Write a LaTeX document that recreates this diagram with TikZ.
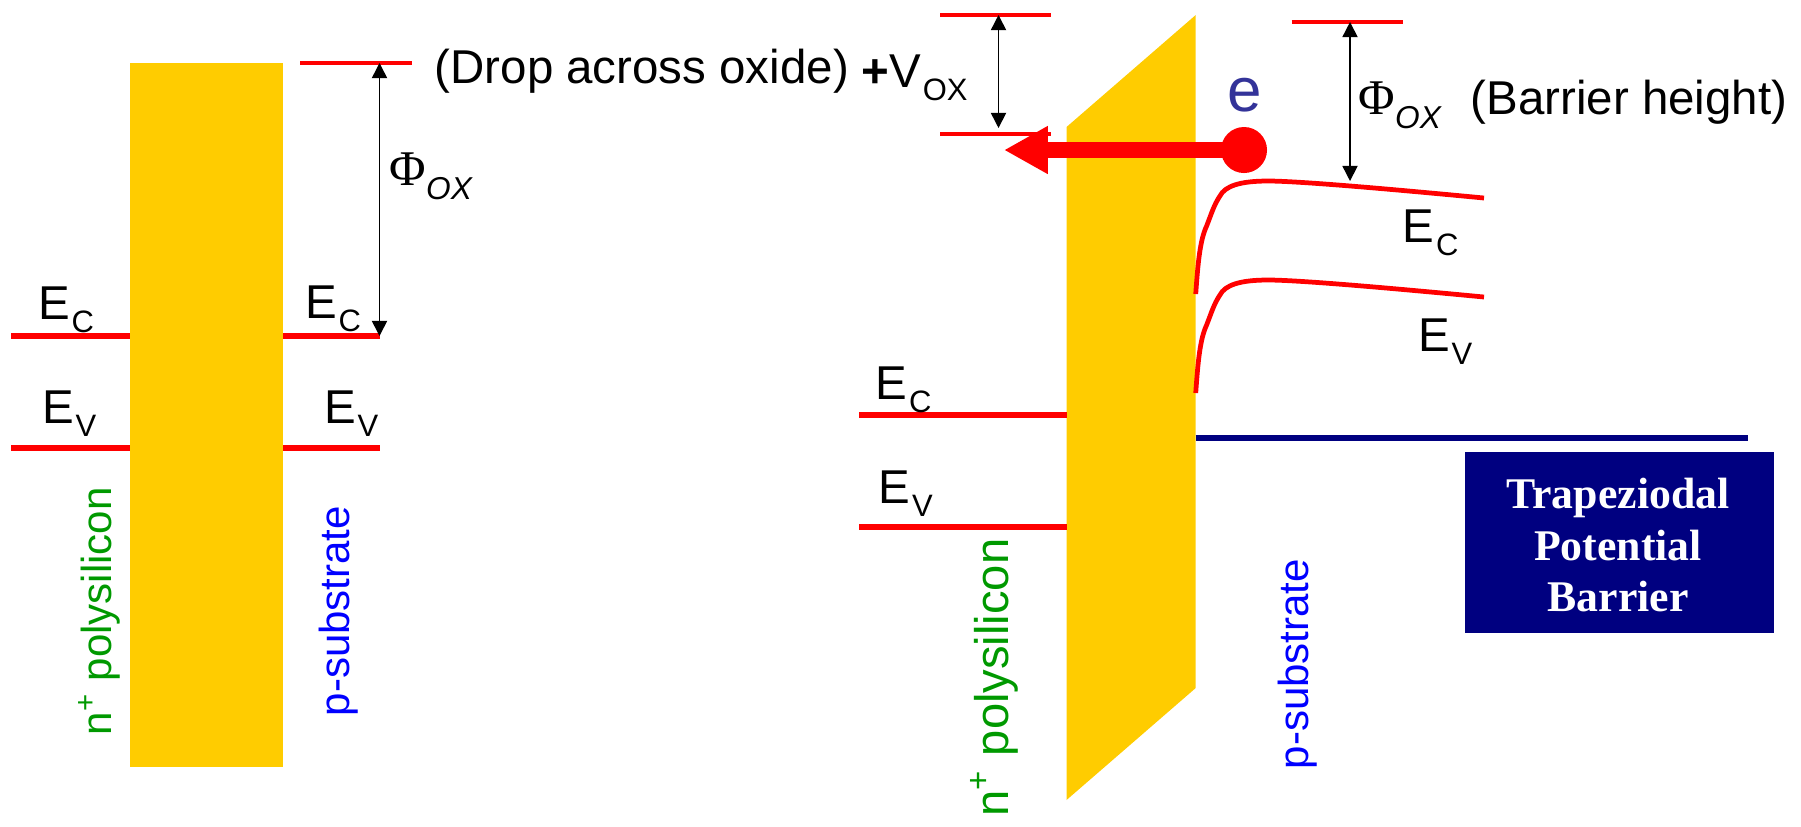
\documentclass[tikz,border=0pt]{standalone}
\usepackage{fontspec}
\setmainfont{Liberation Sans}
\newfontfamily\serifface{Liberation Serif}
\usetikzlibrary{arrows.meta}
\definecolor{oxideyellow}{HTML}{FFCC00}
\definecolor{bandred}{HTML}{FF0000}
\definecolor{deepnavy}{HTML}{000080}
\definecolor{polygreen}{HTML}{009900}
\definecolor{electronblue}{HTML}{333399}

\newcommand{\lowsub}[1]{\kern0.5pt\raisebox{-0.28em}{\fontsize{8.8}{9}\selectfont #1}}
\newcommand{\phiox}{{\serifface\fontsize{14.2}{15}\selectfont Φ}\raisebox{-0.3em}{\fontsize{9}{9}\selectfont\itshape OX}}

\tikzstyle{oxide} = [
    rectangle,
    fill=oxideyellow,
    inner sep=0pt,
    outer sep=0pt,
    minimum width=1.53cm,
    minimum height=7.04cm
]
\tikzstyle{bandlabel} = [
    anchor=base west,
    inner sep=0pt,
    font=\fontsize{13.5}{16}\selectfont
]
\tikzstyle{sidelabel} = [
    bandlabel,
    rotate=90,
    font=\fontsize{11.95}{14}\selectfont
]
\tikzstyle{level} = [bandred, line width=1.9pt]
\tikzstyle{vacuum} = [bandred, line width=1.3pt]
\tikzstyle{band} = [bandred, line width=1.35pt]
\tikzstyle{arrow} = [line width=0.45pt,{Triangle[length=4.3pt,width=4.3pt]}-{Triangle[length=4.3pt,width=4.3pt]}]
\tikzstyle{tunnel} = [bandred, line width=4.4pt,-{Triangle[length=12.5pt,width=12.8pt]}]

\begin{document}
\begin{tikzpicture}[x=0.01cm,y=-0.01cm]
\useasboundingbox (0,0) rectangle (1801,826);

% flat band
\node (oxideflat) [oxide] at (206.5,415) {};

\coordinate (gateECstart) at (11,336);
\coordinate (gateEVstart) at (11,448);
\coordinate (subECend) at (379.5,336);
\coordinate (subEVend) at (379.5,448);
\coordinate (vacLstart) at (300,63);
\coordinate (vacLend) at (412,63);
\coordinate (vacLarrow) at (379.5,63);

\draw [level] (gateECstart) -- (gateECstart -| oxideflat.west);
\draw [level] (gateEVstart) -- (gateEVstart -| oxideflat.west);
\draw [level] (subECend -| oxideflat.east) -- (subECend);
\draw [level] (subEVend -| oxideflat.east) -- (subEVend);
\draw [vacuum] (vacLstart) -- (vacLend);
\draw [arrow] (vacLarrow) -- (subECend);

\node (gateEC) [bandlabel] at (37.5,319) {E\lowsub{C}};
\node (gateEV) [bandlabel] at (41.5,423) {E\lowsub{V}};
\node (subEC) [bandlabel] at (304.5,318) {E\lowsub{C}};
\node (subEV) [bandlabel] at (323.5,423) {E\lowsub{V}};
\node (phiflat) [bandlabel] at (389,185) {\phiox};
\node (dropnote) [bandlabel] at (434,83) {(Drop across oxide)};
\node (gateflat) [sidelabel, text=polygreen] at (111,736) {n\textsuperscript{+} polysilicon};
\node (subflat) [sidelabel, text=blue] at (349,717) {p-substrate};

% bias applied
\fill [oxideyellow] (1066.5,127) -- (1195.7,15) -- (1195.7,688) -- (1066.5,800) -- cycle;

\coordinate (rightEC) at (859,415);
\coordinate (rightECin) at (1066.5,415);
\coordinate (rightEV) at (859,527);
\coordinate (rightEVin) at (1066.5,527);
\coordinate (voxtopL) at (940,15);
\coordinate (voxtopR) at (1051,15);
\coordinate (voxbotL) at (940,134);
\coordinate (voxbotR) at (1051,134);
\coordinate (voxtop) at (998.5,15);
\coordinate (voxbot) at (998.5,128);
\coordinate (barL) at (1291.5,22);
\coordinate (barR) at (1403,22);
\coordinate (bartop) at (1350,22);
\coordinate (barbot) at (1350,181);
\coordinate (fermiL) at (1195.7,438);
\coordinate (fermiR) at (1747.5,438);
\coordinate (tunneltip) at (1004,150);

\draw [level] (rightEC) -- (rightECin);
\draw [level] (rightEV) -- (rightEVin);
\draw [vacuum] (voxtopL) -- (voxtopR);
\draw [vacuum] (voxbotL) -- (voxbotR);
\draw [vacuum] (barL) -- (barR);
\draw [arrow] (voxtop) -- (voxbot);
\draw [arrow] (bartop) -- (barbot);
\draw [deepnavy, line width=1.5pt] (fermiL) -- (fermiR);

\draw [band] (1195.7,294) .. controls (1198,262) and (1200,240) .. (1206.6,226) .. controls (1212,212) and (1214,205) .. (1219.9,196) .. controls (1225,186) and (1240,181) .. (1268,181) .. controls (1300,181) and (1400,190) .. (1484,198);
\draw [band] (1195.7,393) .. controls (1198,361) and (1200,339) .. (1206.6,325) .. controls (1212,311) and (1214,304) .. (1219.9,295) .. controls (1225,285) and (1240,280) .. (1268,280) .. controls (1300,280) and (1400,289) .. (1484,297);

\node (electron) [circle, fill=bandred, inner sep=0pt, minimum size=0.46cm] at (1244,150) {};
\draw [tunnel] (electron.center) -- (tunneltip);

\node (electronlabel) [bandlabel, text=electronblue, font=\fontsize{17.6}{20}\selectfont] at (1226.5,111) {e};
\node (voxlabel) [bandlabel] at (861,87) {\textbf{+}V\lowsub{OX}};
\node (philabel) [bandlabel] at (1358,114) {\phiox};
\node (barrierlabel) [bandlabel] at (1470,114) {(Barrier height)};
\node (rightECup) [bandlabel] at (1402,242) {E\lowsub{C}};
\node (rightEVup) [bandlabel] at (1417.5,351) {E\lowsub{V}};
\node (rightEClabel) [bandlabel] at (875,399) {E\lowsub{C}};
\node (rightEVlabel) [bandlabel] at (878,503) {E\lowsub{V}};
\node (gatebias) [sidelabel, text=polygreen, font=\fontsize{13.4}{16}\selectfont] at (1008,817) {n\textsuperscript{+} polysilicon};
\node (subbias) [sidelabel, text=blue] at (1308,770) {p-substrate};

\node (titlebox) [rectangle, fill=deepnavy, inner sep=0pt,
    minimum width=3.09cm, minimum height=1.81cm] at (1619.5,542.5) {};
\node (titletext) [text=white, align=center, inner sep=0pt,
    font=\serifface\bfseries\fontsize{12.45}{14.6}\selectfont] at (1618,545) {Trapeziodal\\Potential\\Barrier};

\end{tikzpicture}
\end{document}
